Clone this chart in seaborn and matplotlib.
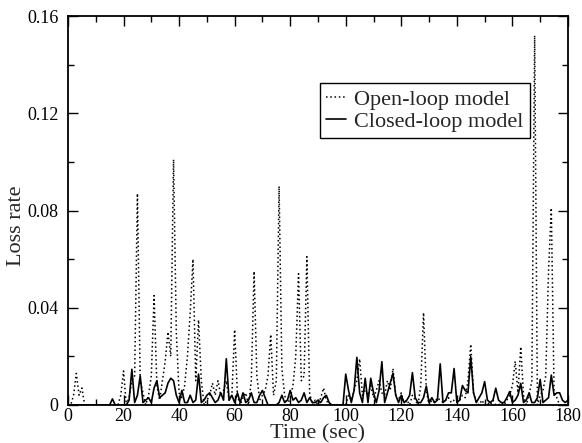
import numpy as np
import pandas as pd
import matplotlib
matplotlib.use("Agg")
import matplotlib.pyplot as plt
from matplotlib.ticker import MultipleLocator
import seaborn as sns

time_sec = list(range(0, 181))

open_loop = [
    0, 0, 0.004, 0.013, 0.004, 0.007, 0, 0, 0, 0,            # 0-9
    0, 0, 0, 0, 0, 0, 0, 0, 0, 0.004,                        # 10-19
    0.014, 0, 0.003, 0.010, 0.012, 0.087, 0.010, 0.005, 0, 0.004,   # 20-29
    0.012, 0.045, 0.008, 0.002, 0.010, 0.018, 0.030, 0.020, 0.101, 0.030,  # 30-39
    0.005, 0.003, 0.008, 0.020, 0.038, 0.060, 0.010, 0.035, 0.010, 0,      # 40-49
    0.002, 0.004, 0.009, 0.004, 0.010, 0.004, 0.006, 0.010, 0.002, 0.004,  # 50-59
    0.031, 0.004, 0, 0.003, 0.005, 0, 0.010, 0.055, 0.012, 0.002,          # 60-69
    0.004, 0.006, 0.012, 0.029, 0.004, 0.010, 0.090, 0.015, 0.004, 0,      # 70-79
    0.003, 0.008, 0.020, 0.054, 0.010, 0.012, 0.061, 0.005, 0, 0.002,      # 80-89
    0, 0.003, 0.007, 0.002, 0, 0, 0, 0, 0, 0,                              # 90-99
    0, 0.004, 0.002, 0.006, 0.010, 0.019, 0.004, 0.006, 0.004, 0.008,      # 100-109
    0.003, 0.006, 0.010, 0.005, 0.004, 0.010, 0.006, 0.015, 0.004, 0.002,  # 110-119
    0.005, 0, 0.002, 0, 0.004, 0.002, 0, 0.008, 0.038, 0.006,              # 120-129
    0, 0.002, 0.001, 0.003, 0.002, 0.001, 0.002, 0.003, 0.001, 0.002,      # 130-139
    0.003, 0.002, 0.004, 0.003, 0.010, 0.025, 0.005, 0.001, 0, 0.002,      # 140-149
    0, 0.001, 0, 0.002, 0, 0, 0.001, 0, 0.002, 0.004,                      # 150-159
    0.008, 0.018, 0.005, 0.024, 0.004, 0, 0.004, 0.010, 0.152, 0,          # 160-169
    0.004, 0.006, 0.012, 0.055, 0.081, 0.005, 0.003, 0, 0, 0, 0,           # 170-180
]

closed_loop = [
    0, 0, 0, 0, 0, 0, 0, 0, 0, 0,                                          # 0-9
    0, 0, 0, 0, 0, 0, 0.0025, 0, 0, 0,                                     # 10-19
    0, 0, 0.002, 0.0147, 0.001, 0.004, 0.012, 0.001, 0.002, 0.003,         # 20-29
    0.001, 0.007, 0.010, 0.003, 0.004, 0.005, 0.009, 0.011, 0.010, 0.004,  # 30-39
    0.001, 0.006, 0.001, 0.001, 0.004, 0.001, 0.002, 0.0127, 0.001, 0.002, # 40-49
    0.004, 0.005, 0.003, 0.001, 0.002, 0.005, 0.002, 0.019, 0.002, 0.004,  # 50-59
    0.001, 0.005, 0.001, 0.005, 0.001, 0.002, 0.005, 0.001, 0.001, 0.004,  # 60-69
    0.006, 0.003, 0, 0, 0, 0, 0.001, 0.004, 0.001, 0.002,                  # 70-79
    0.006, 0.002, 0.003, 0.001, 0.002, 0.005, 0.001, 0.003, 0.001, 0.001,  # 80-89
    0.002, 0.001, 0.003, 0.004, 0.001, 0, 0, 0, 0, 0,                      # 90-99
    0.0127, 0.006, 0.001, 0.006, 0.0196, 0.005, 0.001, 0.011, 0.001, 0.011,   # 100-109
    0.005, 0.001, 0.006, 0.0178, 0.001, 0.005, 0.009, 0.013, 0.004, 0.001,    # 110-119
    0.004, 0.001, 0.002, 0.004, 0.0133, 0.003, 0.001, 0.001, 0.003, 0.0078,   # 120-129
    0.001, 0.003, 0.001, 0.002, 0.0169, 0.001, 0.002, 0.005, 0.005, 0.015,    # 130-139
    0.001, 0.002, 0.008, 0.006, 0.005, 0.0199, 0.005, 0.001, 0.003, 0.005,    # 140-149
    0.0096, 0.002, 0.001, 0.002, 0.0069, 0.002, 0.001, 0.001, 0.003, 0.0055,  # 150-159
    0.001, 0.002, 0.004, 0.0089, 0.001, 0.002, 0.005, 0.001, 0.001, 0.003,    # 160-169
    0.0105, 0.001, 0.002, 0.003, 0.0123, 0.004, 0.005, 0.005, 0.002, 0.001, 0.002,  # 170-180
]

series_names = ["Open-loop model", "Closed-loop model"]
x_ticks = [0, 20, 40, 60, 80, 100, 120, 140, 160, 180]
y_ticks = [0, 0.04, 0.08, 0.12, 0.16]
y_tick_labels = ["0", "0.04", "0.08", "0.12", "0.16"]

sns.set_theme(style="ticks")
plt.rcParams["font.family"] = ["Liberation Serif", "DejaVu Serif"]

df_open = pd.DataFrame({"t": time_sec, "v": open_loop})
df_closed = pd.DataFrame({"t": time_sec, "v": closed_loop})

TICK_FS = 13
LABEL_FS = 16

fig = plt.figure(figsize=(5.82, 4.43), dpi=100)
ax = fig.add_axes([0.1168, 0.0858, 0.8591, 0.878])

sns.lineplot(data=df_open, x="t", y="v", ax=ax, color="black",
             linestyle=(0, (1, 1.8)), linewidth=1.1, label=series_names[0])
sns.lineplot(data=df_closed, x="t", y="v", ax=ax, color="black",
             linestyle="-", linewidth=1.2, label=series_names[1])

ax.set_xlim(0, 180)
ax.set_ylim(0, 0.16)
ax.set_xticks(x_ticks)
ax.set_xticklabels([str(v) for v in x_ticks])
ax.set_yticks(y_ticks)
ax.set_yticklabels(y_tick_labels)
ax.xaxis.set_minor_locator(MultipleLocator(10))
ax.yaxis.set_minor_locator(MultipleLocator(0.02))
ax.tick_params(which="both", direction="in", top=True, right=True,
               labelsize=TICK_FS, width=1.0, colors="black")
ax.tick_params(axis="x", which="both", pad=2)
ax.tick_params(axis="y", which="both", pad=7)
ax.tick_params(which="major", length=7)
ax.tick_params(which="minor", length=4)
for s in ax.spines.values():
    s.set_linewidth(1.3)
    s.set_color("black")

ax.set_xlabel("Time (sec)", fontsize=LABEL_FS)
ax.set_ylabel("Loss rate", fontsize=LABEL_FS)
ax.xaxis.set_label_coords(0.5, -0.05)
ax.yaxis.set_label_coords(-0.083, 0.46)

leg = ax.legend(loc="upper left", bbox_to_anchor=(0.504, 0.828), fontsize=LABEL_FS,
                frameon=True, fancybox=False, framealpha=1, edgecolor="black",
                handlelength=0.9, handletextpad=0.35, borderpad=0.28,
                labelspacing=0.08, borderaxespad=0)
leg.get_frame().set_linewidth(1.0)

fig.savefig("out.png", dpi=100)
